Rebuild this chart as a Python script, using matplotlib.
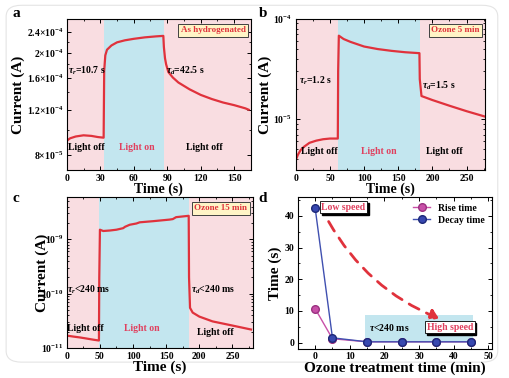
import numpy as np
import matplotlib
matplotlib.use('Agg')
import matplotlib.pyplot as plt
from matplotlib.patches import FancyBboxPatch, FancyArrowPatch
from matplotlib.ticker import FixedLocator, NullFormatter, MultipleLocator

plt.rcParams['font.family'] = ['Liberation Serif', 'DejaVu Serif']
plt.rcParams['font.weight'] = 'bold'
plt.rcParams['axes.labelweight'] = 'bold'
plt.rcParams['mathtext.fontset'] = 'custom'
plt.rcParams['mathtext.rm'] = 'Liberation Serif:bold'
plt.rcParams['mathtext.it'] = 'Liberation Serif:bold:italic'
plt.rcParams['mathtext.bf'] = 'Liberation Serif:bold'

# panel a - as hydrogenated
t_a = [0, 3, 8, 15, 22, 28, 33, 33.5, 34.5, 36, 40, 45, 52, 60, 70, 80, 86.5,
       87, 88, 89, 91, 95, 100, 110, 120, 130, 140, 150, 160, 163]
i_a = [9.1e-5, 9.3e-5, 9.45e-5, 9.55e-5, 9.5e-5, 9.4e-5, 9.35e-5, 1.7e-4, 1.95e-4, 2.05e-4,
       2.13e-4, 2.19e-4, 2.23e-4, 2.26e-4, 2.29e-4, 2.31e-4, 2.32e-4,
       2.1e-4, 1.9e-4, 1.8e-4, 1.68e-4, 1.6e-4, 1.53e-4, 1.44e-4, 1.37e-4, 1.32e-4, 1.28e-4,
       1.25e-4, 1.215e-4, 1.2e-4]
on_a = (33, 87)

# panel b - ozone 5 min
t_b = [0, 3, 7, 12, 20, 30, 40, 50, 61.5, 62, 63, 70, 80, 100, 120, 140, 160, 181,
       181.5, 184, 200, 225, 250, 277]
i_b = [3.9e-6, 4.4e-6, 4.9e-6, 5.3e-6, 5.8e-6, 6.1e-6, 6.3e-6, 6.4e-6, 6.4e-6, 3e-5, 6.8e-5,
       6.3e-5, 5.9e-5, 5.3e-5, 5.0e-5, 4.8e-5, 4.65e-5, 4.55e-5, 2.5e-5, 1.7e-5, 1.55e-5,
       1.36e-5, 1.2e-5, 1.06e-5]
on_b = (62, 182)

# panel c - ozone 15 min
t_c = [0, 10, 20, 30, 40, 48.5, 49, 50, 55, 65, 75, 85, 88, 95, 105, 110, 130, 155, 160,
       165, 184, 184.5, 186, 190, 200, 220, 250, 278]
i_c = [1.7e-11, 1.63e-11, 1.57e-11, 1.5e-11, 1.43e-11, 1.38e-11, 2e-10, 1.5e-9, 1.42e-9,
       1.45e-9, 1.5e-9, 1.6e-9, 1.7e-9, 1.85e-9, 1.95e-9, 2.05e-9, 2.15e-9, 2.3e-9, 2.35e-9,
       2.55e-9, 2.7e-9, 2e-10, 5.5e-11, 4.5e-11, 3.8e-11, 3.1e-11, 2.6e-11, 2.2e-11]
on_c = (49, 184.5)

# panel d - response times vs ozone time
ozone_min = [0, 5, 15, 25, 35, 45]
rise_time = [10.7, 1.2, 0.24, 0.24, 0.24, 0.24]
decay_time = [42.5, 1.5, 0.24, 0.24, 0.24, 0.24]

PINK = '#f9dde1'
BLUE = '#c3e6ef'
RED = '#e0323c'
LBL = '#e0405e'

fig = plt.figure(figsize=(5.1, 3.78), dpi=100)
card = FancyBboxPatch((0.012, 0.042), 0.964, 0.944, boxstyle='round,pad=0,rounding_size=0.03',
                      transform=fig.transFigure, facecolor='white', edgecolor='#e4e4e4',
                      lw=0.8, zorder=-10)
fig.patches.append(card)


def style(ax):
    ax.tick_params(which='both', direction='in', top=True, right=True, labelsize=7, pad=2.5)
    ax.tick_params(which='major', length=3, width=0.7)
    ax.tick_params(which='minor', length=1.6, width=0.6)
    for s in ax.spines.values():
        s.set_linewidth(0.8)


def shade(ax, on, xmax):
    ax.axvspan(0, on[0], color=PINK, lw=0, zorder=0)
    ax.axvspan(on[0], on[1], color=BLUE, lw=0, zorder=0)
    ax.axvspan(on[1], xmax, color=PINK, lw=0, zorder=0)


def tagbox(ax, txt):
    ax.text(0.97, 0.95, txt, transform=ax.transAxes, ha='right', va='top', color=RED,
            fontsize=6.5, fontweight='bold',
            bbox=dict(boxstyle='square,pad=0.25', fc='#fff4c6', ec='#404040', lw=0.7))


def speedbox(ax, x, y, txt):
    ax.text(x + 0.5, y - 0.5, txt, ha='left', va='center', color='none', fontsize=7,
            fontweight='bold', bbox=dict(boxstyle='square,pad=0.15', fc='black', ec='black'))
    ax.text(x, y, txt, ha='left', va='center', color=LBL, fontsize=7, fontweight='bold',
            bbox=dict(boxstyle='square,pad=0.15', fc='white', ec='black', lw=0.6))


# ---- a
ax = fig.add_axes([0.131, 0.550, 0.361, 0.400])
shade(ax, on_a, 165)
ax.plot(t_a, i_a, color=RED, lw=1.6)
ax.set_yscale('log')
ax.set_xlim(0, 165)
ax.set_ylim(7.0e-5, 2.7e-4)
ax.yaxis.set_major_locator(FixedLocator([8e-5, 1.2e-4, 1.6e-4, 2e-4, 2.4e-4]))
ax.yaxis.set_minor_locator(FixedLocator([1e-4, 1.4e-4, 1.8e-4, 2.2e-4]))
ax.yaxis.set_minor_formatter(NullFormatter())
ax.set_yticklabels([r'$8{\times}10^{-5}$', r'$1.2{\times}10^{-4}$', r'$1.6{\times}10^{-4}$',
                    r'$2{\times}10^{-4}$', r'$2.4{\times}10^{-4}$'])
ax.xaxis.set_major_locator(MultipleLocator(30))
ax.xaxis.set_minor_locator(MultipleLocator(15))
style(ax)
ax.set_xlabel('Time (s)', fontsize=10, labelpad=0)
ax.set_ylabel('Current (A)', fontsize=11, labelpad=1)
tagbox(ax, 'As hydrogenated')
ax.text(1, 1.7e-4, r'$\tau_r$=10.7 s', fontsize=7, va='center')
ax.text(89, 1.7e-4, r'$\tau_d$=42.5 s', fontsize=7, va='center')
ax.text(1, 8.6e-5, 'Light off', fontsize=7, va='center')
ax.text(47, 8.6e-5, 'Light on', fontsize=7, va='center', color=LBL)
ax.text(107, 8.6e-5, 'Light off', fontsize=7, va='center')

# ---- b
ax = fig.add_axes([0.580, 0.550, 0.371, 0.400])
shade(ax, on_b, 277)
ax.plot(t_b, i_b, color=RED, lw=1.6)
ax.set_yscale('log')
ax.set_xlim(0, 277)
ax.set_ylim(3.1e-6, 1e-4)
ax.xaxis.set_major_locator(MultipleLocator(50))
ax.xaxis.set_minor_locator(MultipleLocator(25))
ax.yaxis.set_minor_formatter(NullFormatter())
style(ax)
ax.set_xlabel('Time (s)', fontsize=10, labelpad=0)
ax.set_ylabel('Current (A)', fontsize=11, labelpad=1)
tagbox(ax, 'Ozone 5 min')
ax.text(5, 2.4e-5, r'$\tau_r$=1.2 s', fontsize=7, va='center')
ax.text(185, 2.15e-5, r'$\tau_d$=1.5 s', fontsize=7, va='center')
ax.text(8, 4.7e-6, 'Light off', fontsize=7, va='center')
ax.text(96, 4.7e-6, 'Light on', fontsize=7, va='center', color=LBL)
ax.text(190, 4.8e-6, 'Light off', fontsize=7, va='center')

# ---- c
ax = fig.add_axes([0.131, 0.079, 0.365, 0.400])
shade(ax, on_c, 281)
ax.plot(t_c, i_c, color=RED, lw=1.6)
ax.set_yscale('log')
ax.set_xlim(0, 281)
ax.set_ylim(1e-11, 6e-9)
ax.xaxis.set_major_locator(MultipleLocator(50))
ax.xaxis.set_minor_locator(MultipleLocator(25))
ax.yaxis.set_minor_formatter(NullFormatter())
style(ax)
ax.set_xlabel('Time (s)', fontsize=11, labelpad=0)
ax.set_ylabel('Current (A)', fontsize=11, labelpad=-6)
tagbox(ax, 'Ozone 15 min')
ax.text(1, 1.18e-10, r'$\tau_r$<240 ms', fontsize=7, va='center')
ax.text(187, 1.18e-10, r'$\tau_d$<240 ms', fontsize=7, va='center')
ax.text(1, 2.33e-11, 'Light off', fontsize=7, va='center')
ax.text(86, 2.33e-11, 'Light on', fontsize=7, va='center', color=LBL)
ax.text(197, 1.9e-11, 'Light off', fontsize=7, va='center')

# ---- d
ax = fig.add_axes([0.584, 0.077, 0.380, 0.402])
ax.fill_between([14.5, 45.5], 0.6, 8.7, color=BLUE, lw=0, zorder=0)
ax.plot(ozone_min, rise_time, '-o', color='#c850a8', mfc='#c850a8', mec='#9a3080',
        ms=5.5, lw=1, label='Rise time', zorder=3)
ax.plot(ozone_min, decay_time, '-o', color='#4050b0', mfc='#3848b0', mec='#1c2878',
        ms=5.5, lw=1, label='Decay time', zorder=4)
ax.set_xlim(-5, 51)
ax.set_ylim(-2, 46)
ax.xaxis.set_major_locator(MultipleLocator(10))
ax.xaxis.set_minor_locator(MultipleLocator(5))
ax.yaxis.set_major_locator(MultipleLocator(10))
ax.yaxis.set_minor_locator(MultipleLocator(5))
style(ax)
ax.set_xlabel('Ozone treatment time (min)', fontsize=11, labelpad=0)
ax.set_ylabel('Time (s)', fontsize=11, labelpad=2)
ax.legend(loc='upper right', fontsize=7, frameon=False, handlelength=1.8,
          borderaxespad=0.3, labelspacing=0.3)
arr = FancyArrowPatch((3.5, 39), (36.5, 7.3), connectionstyle='arc3,rad=0.18',
                      arrowstyle='-|>,head_length=5,head_width=3.5', color=RED,
                      lw=2, linestyle=(0, (4, 3)), zorder=2)
ax.add_patch(arr)
speedbox(ax, 1.8, 42.8, 'Low speed')
ax.text(15.5, 4.8, r'$\tau$<240 ms', fontsize=7, va='center', zorder=5)
speedbox(ax, 32.3, 4.8, 'High speed')

fig.text(0.025, 0.955, 'a', fontsize=11, fontweight='bold')
fig.text(0.507, 0.955, 'b', fontsize=11, fontweight='bold')
fig.text(0.025, 0.465, 'c', fontsize=11, fontweight='bold')
fig.text(0.507, 0.465, 'd', fontsize=11, fontweight='bold')

fig.savefig('out.png', dpi=100)
